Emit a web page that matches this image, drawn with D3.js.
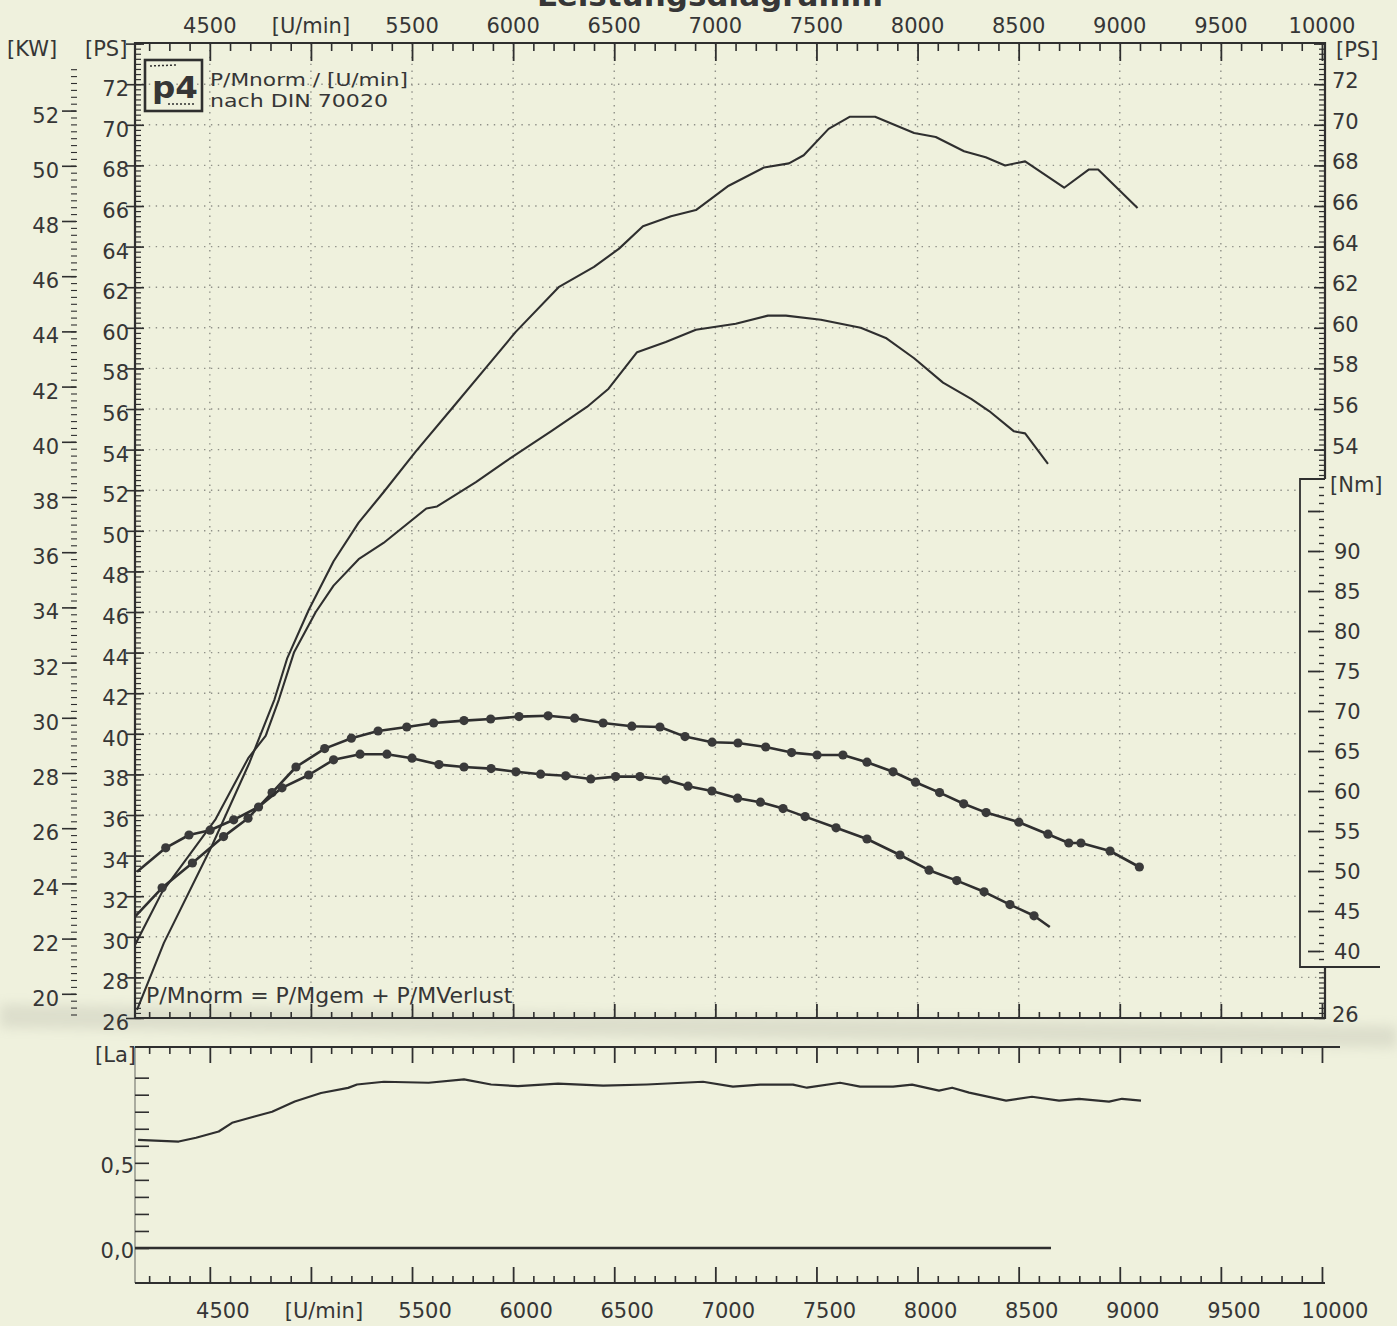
<!DOCTYPE html>
<html><head><meta charset="utf-8">
<script src="https://cdn.jsdelivr.net/npm/d3@7"></script>
<style>
html,body{margin:0;padding:0;background:#eff1dd;}
svg{display:block;}
text{font-family:"DejaVu Sans",sans-serif;fill:#363636;}
</style></head><body>
<svg id="chart" width="1397" height="1326"></svg>
<script>
// ---------------- DATA ----------------
const rpmMajorTicks = [4500,5000,5500,6000,6500,7000,7500,8000,8500,9000,9500,10000];
const rpmTickLabels = ["4500","[U/min]","5500","6000","6500","7000","7500","8000","8500","9000","9500","10000"];
const psTickLabelsLeft = [26,28,30,32,34,36,38,40,42,44,46,48,50,52,54,56,58,60,62,64,66,68,70,72];
const psTickLabelsRight = [26,54,56,58,60,62,64,66,68,70,72];
const kwTickLabels = [20,22,24,26,28,30,32,34,36,38,40,42,44,46,48,50,52];
const nmTickLabels = [40,45,50,55,60,65,70,75,80,85,90];
const lambdaTickLabels = [[0.5,"0,5"],[0.0,"0,0"]];

// P/Mnorm power [PS]
const pNormRpm = [4140,4273,4511,4697,4820,4882,4989,5112,5236,5359,5518,5695,5871,6013,6225,6400,6524,6642,6781,6904,7066,7241,7364,7437,7560,7666,7790,7983,8090,8230,8337,8433,8532,8725,8848,8893,9088];
const pNormPS  = [26.4,29.7,34.5,38.6,41.7,43.7,46.1,48.5,50.4,51.9,53.9,56.0,58.1,59.8,62.0,63.0,63.9,65.0,65.5,65.8,67.0,67.9,68.1,68.5,69.8,70.4,70.4,69.6,69.4,68.7,68.4,68.0,68.2,66.9,67.8,67.8,65.9];
// P/Mgem power [PS]
const pGemRpm = [4130,4264,4529,4690,4776,4842,4916,5024,5112,5236,5359,5571,5624,5816,5960,6187,6365,6472,6613,6755,6904,7101,7260,7349,7522,7719,7843,7983,8126,8265,8354,8477,8532,8645];
const pGemPS  = [29.6,32.2,35.8,38.8,39.9,41.7,44.0,46.0,47.3,48.6,49.4,51.1,51.2,52.4,53.4,54.9,56.1,57.0,58.8,59.3,59.9,60.2,60.6,60.6,60.4,60.0,59.5,58.5,57.3,56.5,55.9,54.9,54.8,53.3];
// M norm torque [Nm]
const mNormRpm = [4130,4264,4414,4568,4689,4808,4926,5068,5200,5332,5474,5607,5757,5889,6029,6173,6304,6445,6587,6726,6850,6984,7112,7249,7377,7503,7631,7750,7879,7990,8109,8228,8339,8501,8645,8748,8808,8952,9097];
const mNormNm  = [44.3,47.9,51.0,54.3,56.6,59.8,63.0,65.3,66.6,67.5,68.0,68.5,68.8,69.0,69.3,69.4,69.1,68.5,68.1,68.0,66.8,66.1,66.0,65.5,64.8,64.5,64.5,63.6,62.4,61.1,59.8,58.4,57.3,56.1,54.6,53.5,53.5,52.5,50.5];
// M gem torque [Nm]
const mGemRpm = [4140,4282,4397,4501,4618,4741,4857,4989,5112,5243,5376,5500,5633,5757,5891,6014,6136,6260,6384,6507,6627,6755,6865,6983,7110,7223,7335,7444,7597,7750,7913,8057,8194,8329,8457,8576,8654];
const mGemNm  = [49.9,52.9,54.5,55.1,56.4,58.0,60.4,62.0,63.9,64.6,64.6,64.1,63.3,63.0,62.8,62.4,62.1,61.9,61.5,61.8,61.8,61.4,60.6,60.0,59.1,58.6,57.8,56.8,55.4,54.0,52.0,50.1,48.8,47.4,45.8,44.4,43.0];
// Lambda
const lambdaRpm = [4145,4346,4432,4544,4610,4721,4808,4920,5050,5184,5228,5361,5582,5757,5891,6024,6222,6445,6662,6939,7087,7221,7384,7453,7617,7716,7879,7973,8106,8171,8255,8438,8566,8700,8799,8947,9011,9105];
const lambdaVal = [0.635,0.625,0.647,0.684,0.735,0.772,0.80,0.86,0.91,0.94,0.96,0.976,0.97,0.99,0.96,0.95,0.965,0.953,0.96,0.976,0.947,0.959,0.959,0.941,0.97,0.947,0.947,0.959,0.924,0.941,0.912,0.865,0.888,0.865,0.876,0.859,0.876,0.865];
// second (zero) channel in lambda panel
const lambda2Rpm = [4130,8660];
const lambda2Val = [0.0,0.0];

// ---------------- CHART ----------------
const W=1397,H=1326, ink="#2f2f2f";
const svg=d3.select("#chart");
const defs=svg.append("defs");
const blur=defs.append("filter").attr("id","blur").attr("x","-10%").attr("y","-200%").attr("width","120%").attr("height","500%");
blur.append("feGaussianBlur").attr("stdDeviation",6);
svg.append("rect").attr("width",W).attr("height",H).attr("fill","#eff1dd");

const x=d3.scaleLinear().domain([4130,10015]).range([135,1325]);
const yPS=d3.scaleLinear().domain([26,74.03]).range([1018,43]);
const PS_PER_KW=1.35962;
const yKW=d3.scaleLinear().domain(yPS.domain().map(v=>v/PS_PER_KW)).range(yPS.range());
const yNm=d3.scaleLinear().domain([38,99]).range([967,479]);
const yLa=d3.scaleLinear().domain([0,1.18]).range([1248,1047]);
const [X0,X1]=x.range(), [YB,YT]=yPS.range();

// fold crease
svg.append("path").attr("d",`M0,${YB-14} L${W},${YB+8} L${W},${YB+30} L0,${YB+10}Z`)
  .attr("fill","#8a8a80").attr("opacity",0.18).attr("filter","url(#blur)");

function tickAxis(axis, tx, ty, w){
  const g=svg.append("g").attr("transform",`translate(${tx},${ty})`).call(axis);
  g.select(".domain").remove(); g.selectAll("text").remove();
  g.selectAll("line").attr("stroke",ink).attr("stroke-width",w||1.6);
  return g;
}

// ---- grid
const grid=svg.append("g").attr("stroke","#505050").attr("stroke-width",1.4).attr("stroke-dasharray","1.4 5.5").attr("opacity",0.6);
rpmMajorTicks.filter(r=>r<10000).forEach(r=>grid.append("line").attr("x1",x(r)).attr("x2",x(r)).attr("y1",YT).attr("y2",YB));
d3.range(28,73,2).forEach(p=>{
  const y=yPS(p), inBr = y>yNm(99) && y<yNm(38);
  grid.append("line").attr("x1",X0).attr("x2",inBr?1300:X1).attr("y1",y).attr("y2",y);
});

// ---- main frame (right side interrupted by the Nm bracket)
svg.append("path").attr("d",`M${X1},${yNm(99)} V${YT} H${X0} V${YB} H${X1} V${yNm(38)}`)
  .attr("fill","none").attr("stroke",ink).attr("stroke-width",2.2);
svg.append("path").attr("d",`M${X1},${yNm(99)} H1300 V${yNm(38)} H${X1+55}`)
  .attr("fill","none").attr("stroke",ink).attr("stroke-width",1.8);

// rpm ticks
const rpmMinor=d3.range(4200,10001,100).filter(r=>r%500!==0);
tickAxis(d3.axisBottom(x).tickValues(rpmMajorTicks).tickSize(18),0,YT,1.8);
tickAxis(d3.axisBottom(x).tickValues(rpmMinor).tickSize(8),0,YT);
tickAxis(d3.axisTop(x).tickValues(rpmMajorTicks).tickSize(14),0,YB,1.8);
tickAxis(d3.axisTop(x).tickValues(rpmMinor).tickSize(6),0,YB);

// left PS ladder
tickAxis(d3.axisRight(yPS).tickValues(psTickLabelsLeft.concat([74])).tickSize(18),X0-9,0,1.6);
tickAxis(d3.axisRight(yPS).tickValues(d3.range(26,74.01,0.25)).tickSize(6),X0,0,1.2);
// right PS ladder (outside bracket)
const inBracket=p=>yPS(p)>yNm(99)-2 && yPS(p)<yNm(38)+2;
tickAxis(d3.axisLeft(yPS).tickValues(psTickLabelsRight.filter(p=>!inBracket(p)).concat([74])).tickSize(11),X1,0,1.6);
tickAxis(d3.axisLeft(yPS).tickValues(d3.range(26,74.01,0.25).filter(p=>!inBracket(p))).tickSize(6),X1,0,1.2);
// Nm ladder
tickAxis(d3.axisLeft(yNm).tickValues(d3.range(40,96,5)).tickSize(12),1320,0,1.8);
tickAxis(d3.axisLeft(yNm).tickValues(d3.range(39,99,1)).tickSize(5),1324,0,1.4);
// kW ladder
tickAxis(d3.axisRight(yKW).tickValues(kwTickLabels).tickSize(14),62,0,1.6);
tickAxis(d3.axisRight(yKW).tickValues(d3.range(19.25,53.6,0.25)).tickSize(6),71,0,1.1);

// ---- labels
const lab=(t,xx,yy,opt={})=>{
  const el=svg.append("text").text(t).attr("x",xx).attr("y",yy)
    .attr("font-size",opt.fs||21).attr("text-anchor",opt.anchor||"start").attr("font-weight",opt.fw||"normal");
  if(opt.len) el.attr("textLength",opt.len).attr("lengthAdjust","spacingAndGlyphs");
  return el;
};
rpmMajorTicks.forEach((r,i)=>{
  lab(rpmTickLabels[i],x(r),33,{anchor:"middle"});
  lab(rpmTickLabels[i],x(r)+13,1318,{anchor:"middle"});
});
psTickLabelsLeft.forEach(p=>lab(String(p),129,yPS(p)+12,{anchor:"end"}));
kwTickLabels.forEach(k=>lab(String(k),59,yKW(k)+12,{anchor:"end"}));
psTickLabelsRight.forEach(p=>lab(String(p),1332,yPS(p)+4));
nmTickLabels.forEach(n=>lab(String(n),1334,yNm(n)+7.5));
lab("[KW]",7,56); lab("[PS]",85,56); lab("[PS]",1336,57); lab("[Nm]",1330,492);
lab("Leistungsdiagramm",710,6,{anchor:"middle",fs:31,fw:"bold"});
lab("P/Mnorm / [U/min]",210,86,{fs:18,len:198});
lab("nach DIN 70020",210,107,{fs:18,len:178});
lab("P/Mnorm = P/Mgem + P/MVerlust",146,1003,{fs:22});

// legend "p4" box
svg.append("rect").attr("x",145).attr("y",60).attr("width",57).attr("height",51)
  .attr("fill","none").attr("stroke",ink).attr("stroke-width",2.6);
svg.append("text").text("p4").attr("x",152).attr("y",98).attr("font-size",31)
  .attr("font-family","Liberation Serif, serif").attr("font-weight","bold")
  .attr("textLength",46).attr("lengthAdjust","spacingAndGlyphs");
svg.append("line").attr("x1",150).attr("x2",176).attr("y1",66).attr("y2",65).attr("stroke",ink).attr("stroke-width",1.5).attr("stroke-dasharray","2 2");
svg.append("line").attr("x1",168).attr("x2",196).attr("y1",104).attr("y2",104).attr("stroke",ink).attr("stroke-width",1.5).attr("stroke-dasharray","2 2");

// ---- curves
const zip=(a,b)=>a.map((v,i)=>[v,b[i]]);
const lineOf=ys=>d3.line().x(d=>x(d[0])).y(d=>ys(d[1]));
const clip=defs.append("clipPath").attr("id","plotclip");
clip.append("rect").attr("x",X0).attr("y",YT).attr("width",X1-X0).attr("height",YB-YT);
const plot=svg.append("g").attr("clip-path","url(#plotclip)");
[[pNormRpm,pNormPS],[pGemRpm,pGemPS]].forEach(([r,v])=>
  plot.append("path").datum(zip(r,v)).attr("d",lineOf(yPS)).attr("fill","none").attr("stroke",ink).attr("stroke-width",2.1).attr("stroke-linejoin","round"));
const torque=[{r:mNormRpm,v:mNormNm,lastDot:true},{r:mGemRpm,v:mGemNm,lastDot:false}];
torque.forEach(s=>{
  const pts=zip(s.r,s.v);
  plot.append("path").datum(pts).attr("d",lineOf(yNm)).attr("fill","none").attr("stroke",ink).attr("stroke-width",2.6).attr("stroke-linejoin","round");
  const dots=pts.slice(1, s.lastDot?pts.length:pts.length-1);
  plot.selectAll(null).data(dots).enter().append("circle")
    .attr("cx",d=>x(d[0])).attr("cy",d=>yNm(d[1])).attr("r",4.6).attr("fill","#3a3a3a");
});

// ---- lambda panel
const LT=yLa.range()[1], LB=1283;
svg.append("line").attr("x1",X0).attr("x2",X1+15).attr("y1",LT).attr("y2",LT).attr("stroke",ink).attr("stroke-width",2);
svg.append("line").attr("x1",X0).attr("x2",X1).attr("y1",LB).attr("y2",LB).attr("stroke",ink).attr("stroke-width",2);
svg.append("line").attr("x1",X0).attr("x2",X0).attr("y1",LT).attr("y2",LB).attr("stroke",ink).attr("stroke-width",1.2).attr("opacity",0.6);
tickAxis(d3.axisBottom(x).tickValues(rpmMajorTicks).tickSize(16),0,LT,1.8);
tickAxis(d3.axisBottom(x).tickValues(rpmMinor).tickSize(7),0,LT);
tickAxis(d3.axisTop(x).tickValues(rpmMajorTicks).tickSize(16),0,LB,1.8);
tickAxis(d3.axisTop(x).tickValues(rpmMinor).tickSize(7),0,LB);
tickAxis(d3.axisRight(yLa).tickValues(d3.range(0,1.001,0.1)).tickSize(14),X0,0,1.6);
lab("[La]",95,1062);
lambdaTickLabels.forEach(([v,t])=>lab(t,134,yLa(v)+10,{anchor:"end"}));
svg.append("path").datum(zip(lambdaRpm,lambdaVal)).attr("d",lineOf(yLa)).attr("fill","none").attr("stroke",ink).attr("stroke-width",2.2).attr("stroke-linejoin","round");
svg.append("path").datum(zip(lambda2Rpm,lambda2Val)).attr("d",lineOf(yLa)).attr("fill","none").attr("stroke",ink).attr("stroke-width",2.6);
</script>
</body></html>
